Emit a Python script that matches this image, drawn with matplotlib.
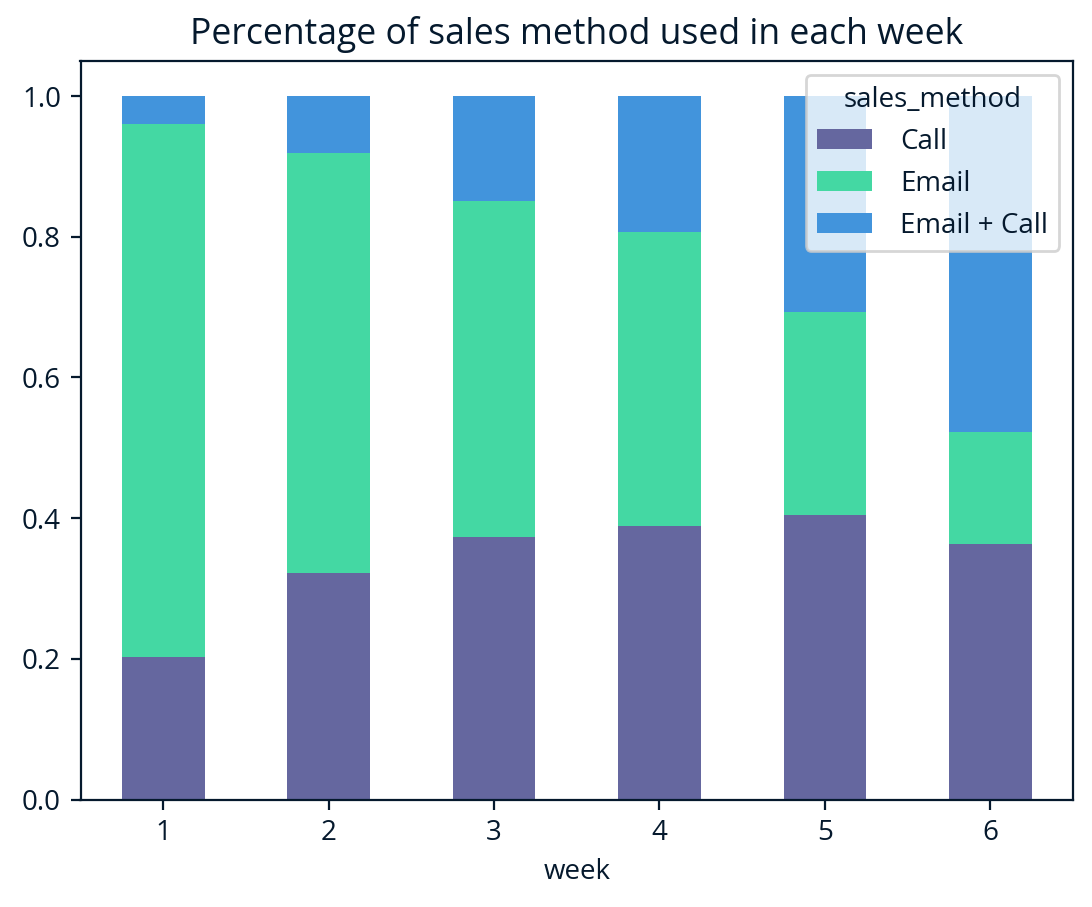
import matplotlib
matplotlib.use("Agg")
import matplotlib.pyplot as plt
import numpy as np
import pandas as pd

weeks = [1, 2, 3, 4, 5, 6]
call = [0.202, 0.322, 0.373, 0.389, 0.404, 0.363]
email = [0.758, 0.597, 0.478, 0.418, 0.289, 0.160]
email_call = [0.040, 0.081, 0.149, 0.193, 0.307, 0.477]
methods = ["Call", "Email", "Email + Call"]
colors = ["#65679f", "#44d8a3", "#4294dc"]
text_color = "#05192d"

plt.rcParams['font.family'] = ['Open Sans', 'DejaVu Sans']
plt.rcParams['text.color'] = text_color
plt.rcParams['axes.labelcolor'] = text_color
plt.rcParams['xtick.color'] = text_color
plt.rcParams['ytick.color'] = text_color
plt.rcParams['axes.edgecolor'] = text_color

df = pd.DataFrame({methods[0]: call, methods[1]: email, methods[2]: email_call},
                  index=pd.Index(weeks, name="week"))

fig = plt.figure(figsize=(1092/200, 907/200), dpi=200)
ax = fig.add_axes([80.5/1092, 1-799.5/907, (1073-80.5)/1092, (799.5-61)/907])
df.plot(kind="bar", stacked=True, color=colors, ax=ax, rot=0, width=0.5)
ax.set_title("Percentage of sales method used in each week", fontsize=12.8, color=text_color)
ax.set_xlabel("week", fontsize=10)
ax.tick_params(labelsize=10)
ax.set_ylim(0, 1.05)
leg = ax.legend(title="sales_method", loc="upper right", fontsize=10, title_fontsize=10,
                handletextpad=1.0)
leg.get_frame().set_edgecolor("#cccccc")
fig.savefig("out.png", dpi=200)
